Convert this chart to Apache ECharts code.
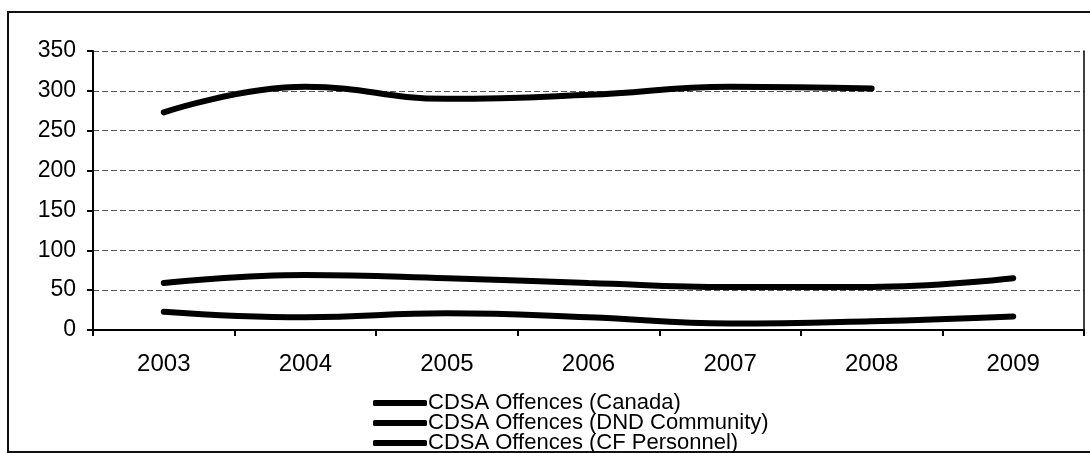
<!DOCTYPE html>
<html>
<head>
<meta charset="utf-8">
<script src="https://cdn.jsdelivr.net/npm/echarts@6/dist/echarts.min.js"></script>
<style>
html,body{margin:0;padding:0;background:#fff;}
#chart{width:1090px;height:453px;}
</style>
</head>
<body>
<div id="chart"></div>
<script>
var years = ['2003', '2004', '2005', '2006', '2007', '2008', '2009'];
var canada = [273, 305, 290, 295, 305, 303, null];
var dndCommunity = [59, 69, 65, 59, 54, 54, 65];
var cfPersonnel = [23, 16, 21, 16, 8, 11, 17];
var seriesNames = ['CDSA Offences (Canada)', 'CDSA Offences (DND Community)', 'CDSA Offences (CF Personnel)'];

var chart = echarts.init(document.getElementById('chart'), null, {renderer: 'canvas'});
var font = '"Liberation Sans", Arial, sans-serif';
function mkSeries(name, data) {
  return {
    name: name, type: 'line', data: data, smooth: 0.45, symbol: 'none',
    lineStyle: {color: '#000', width: 6, cap: 'round'},
    itemStyle: {color: '#000'}
  };
}
function mkLegend(i) {
  return {
    orient: 'vertical', left: 373, top: 392 + i * 20, padding: 0,
    itemWidth: 54, itemHeight: 6, icon: 'roundRect',
    data: [seriesNames[i]],
    textStyle: {fontFamily: font, fontSize: 22, color: '#000', padding: [0, 0, 0, -4]}
  };
}
chart.setOption({
  animation: false,
  backgroundColor: '#fff',
  graphic: [{
    type: 'rect', shape: {x: 8, y: 12, width: 1100, height: 440},
    style: {fill: 'none', stroke: '#111', lineWidth: 2}, z: -1
  }],
  grid: {left: 93, right: 6, top: 51, bottom: 123},
  legend: [mkLegend(0), mkLegend(1), mkLegend(2)],
  xAxis: {
    type: 'category', data: years, boundaryGap: true,
    axisLine: {lineStyle: {color: '#000', width: 2}},
    axisTick: {show: true, length: 6, lineStyle: {color: '#000', width: 2}},
    axisLabel: {color: '#000', fontFamily: font, fontSize: 24, margin: 22}
  },
  yAxis: [{
    type: 'value', min: 0, max: 350, interval: 50,
    axisLine: {show: true, lineStyle: {color: '#000', width: 2}},
    axisTick: {show: true, length: 6, lineStyle: {color: '#000', width: 2}},
    axisLabel: {color: '#000', fontFamily: font, fontSize: 23, margin: 17},
    splitLine: {show: true, lineStyle: {color: '#555', width: 1, type: [6, 3]}}
  }, {
    type: 'value', min: 0, max: 350, interval: 50, position: 'right',
    axisLine: {show: true, lineStyle: {color: '#000', width: 1.5}},
    axisTick: {show: false}, axisLabel: {show: false}, splitLine: {show: false}
  }],
  series: [
    mkSeries(seriesNames[0], canada),
    mkSeries(seriesNames[1], dndCommunity),
    mkSeries(seriesNames[2], cfPersonnel)
  ]
});
</script>
</body>
</html>
